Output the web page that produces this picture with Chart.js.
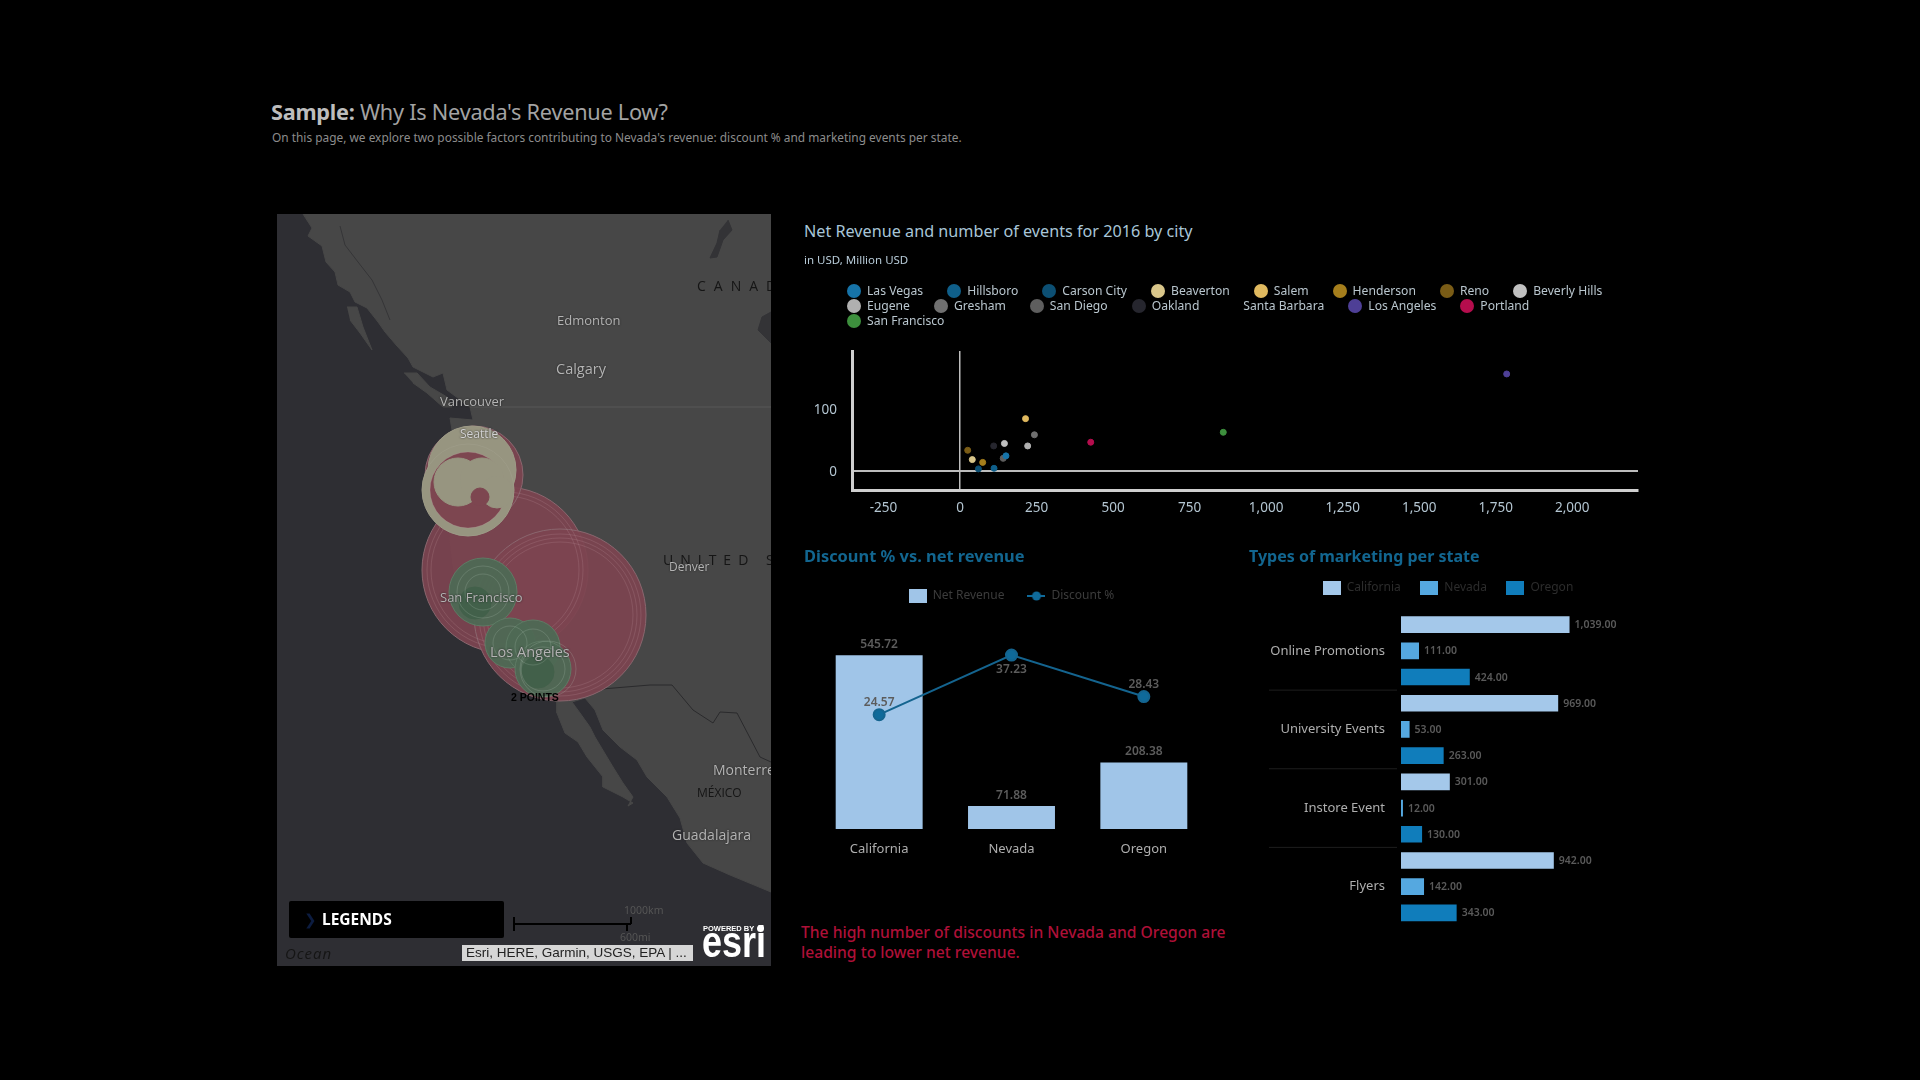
<!DOCTYPE html>
<html>
<head>
<meta charset="utf-8">
<title>Why Is Nevada's Revenue Low?</title>
<script src="https://cdn.jsdelivr.net/npm/chart.js@4"></script>
<style>
  html, body { margin: 0; width: 1920px; height: 1080px; background: #000; overflow: hidden; font-family: "Noto Sans", sans-serif; }
  canvas { position: absolute; }
  .txt { position: absolute; white-space: nowrap; line-height: 1; }
  .place { position: absolute; white-space: nowrap; line-height: 1; transform: translateY(-50%); color: #b4b4b4; font-family: "Open Sans", sans-serif; text-shadow: 0 0 2px #222; }
  .region { color: #151515; text-shadow: none; }
  #map { position: absolute; left: 277px; top: 214px; width: 494px; height: 752px; overflow: hidden; background: #2e2e33; }
  #map canvas { left: 0; top: 0; }
  #map .place { margin-left: -277px; margin-top: -214px; }
  #cityLegend { position: absolute; left: 847px; top: 283px; width: 790px; display: flex; flex-wrap: wrap; column-gap: 24px; font-size: 12.15px; line-height: 15px; height: 45px; color: #b9c6ce; }
  #cityLegend span { display: flex; align-items: center; }
  #cityLegend i { width: 14px; height: 14px; border-radius: 50%; margin-right: 6px; }
</style>
</head>
<body>
<div class="txt" style="left:271px;top:101px;font-size:21.7px;color:#a3a3a3;letter-spacing:-.25px"><b style="color:#bdbdbd">Sample:</b> Why Is Nevada's Revenue Low?</div>
<div class="txt" style="left:272px;top:132px;font-size:11.9px;color:#8c8c8c">On this page, we explore two possible factors contributing to Nevada's revenue: discount % and marketing events per state.</div>

<div id="map">
  <canvas id="mapChart" width="494" height="752"></canvas>
  <div class="place" style="left:557px;top:320px;font-size:13px">Edmonton</div>
  <div class="place" style="left:556px;top:369px;font-size:14.5px">Calgary</div>
  <div class="place" style="left:440px;top:401px;font-size:13px">Vancouver</div>
  <div class="place" style="left:460px;top:434px;font-size:12px;color:#d4d4d4">Seattle</div>
  <div class="place region" style="left:697px;top:286px;font-size:14px;letter-spacing:8px">CANADA</div>
  <div class="place region" style="left:663px;top:560px;font-size:14px;letter-spacing:7px">UNITED STATES</div>
  <div class="place" style="left:669px;top:567px;font-size:12px">Denver</div>
  <div class="place" style="left:440px;top:597px;font-size:13px">San Francisco</div>
  <div class="place" style="left:490px;top:652px;font-size:14.5px">Los Angeles</div>
  <div class="place" style="left:511px;top:697px;font-size:10.5px;font-weight:700;color:#000;text-shadow:none;font-family:'Liberation Sans'">2 POINTS</div>
  <div class="place" style="left:713px;top:770px;font-size:14px">Monterrey</div>
  <div class="place region" style="left:697px;top:793px;font-size:12px">MÉXICO</div>
  <div class="place" style="left:672px;top:835px;font-size:14px">Guadalajara</div>
  <div class="place region" style="left:285px;top:953px;font-size:15px;font-style:italic;letter-spacing:1px">Ocean</div>
  <div style="position:absolute;left:12px;top:687px;width:215px;height:37px;background:#000;border-radius:2px"></div>
  <div class="txt" style="left:27px;top:698px;font-size:15px;color:#0c1c40">&#10095;</div>
  <div class="txt" style="left:45px;top:698px;font-size:15.5px;font-weight:700;color:#fff">LEGENDS</div>
  <div style="position:absolute;left:236px;top:709px;width:118px;height:2px;background:#000"></div>
  <div style="position:absolute;left:236px;top:703px;width:2px;height:14px;background:#000"></div>
  <div style="position:absolute;left:353px;top:703px;width:2px;height:7px;background:#000"></div>
  <div style="position:absolute;left:349px;top:710px;width:2px;height:7px;background:#000"></div>
  <div class="txt" style="left:347px;top:691px;font-size:10.5px;color:#555">1000km</div>
  <div class="txt" style="left:343px;top:718px;font-size:10.5px;color:#555">600mi</div>
  <div class="txt" style="left:185px;top:731px;width:231px;height:16px;background:#d6d6d6;color:#222;font:13.5px/16px 'Liberation Sans';padding-left:4px;box-sizing:border-box">Esri, HERE, Garmin, USGS, EPA | ...</div>
  <div class="txt" style="left:426px;top:710px;font:700 7.5px 'Liberation Sans';color:#fff">POWERED BY</div>
  <div style="position:absolute;left:480px;top:711px;width:7px;height:7px;border-radius:50%;background:#fff"></div>
  <div class="txt" style="left:425px;top:712.5px;font:700 36px/36px 'Liberation Sans';color:#fff;transform-origin:0 30.5px;transform:scaleY(1.25)">esri</div>
</div>

<div class="txt" style="left:804px;top:223px;font-size:16.2px;color:#a8c6d8">Net Revenue and number of events for 2016 by city</div>
<div class="txt" style="left:804px;top:254px;font-size:11.5px;color:#b7cbd8">in USD, Million USD</div>
<div id="cityLegend"></div>
<canvas id="scatterChart" width="860" height="190" style="left:790px;top:340px"></canvas>

<div class="txt" style="left:804px;top:548px;font-size:16.4px;font-weight:700;color:#126690">Discount % vs. net revenue</div>
<canvas id="comboChart" width="440" height="308" style="left:790px;top:567px"></canvas>

<div class="txt" style="left:1249px;top:548px;font-size:16px;font-weight:700;color:#126690">Types of marketing per state</div>
<canvas id="marketingChart" width="420" height="364" style="left:1240px;top:562px"></canvas>

<div class="txt" style="left:801px;top:923px;font-size:15.65px;line-height:19.5px;font-weight:500;color:#ae1038">The high number of discounts in Nevada and Oregon are<br>leading to lower net revenue.</div>

<script>
// scatter: net revenue (x) and number of events (y) by city
const cities = ['Las Vegas', 'Hillsboro', 'Carson City', 'Beaverton', 'Salem', 'Henderson', 'Reno', 'Beverly Hills',
  'Eugene', 'Gresham', 'San Diego', 'Oakland', 'Santa Barbara', 'Los Angeles', 'Portland', 'San Francisco'];
const cityRevenue = [150, 111, 60, 40, 214, 74, 25, 145, 221, 243, 141, 110, 100, 1786, 427, 860];
const cityEvents = [24, 4, 3, 18, 84, 13.5, 33, 44, 40, 58, 20, 40, 30, 156, 46, 62];
const cityColors = ['#1673a8', '#0f5f8a', '#0c4f73', '#d9c68a', '#e0b95f', '#a57e1c', '#7a5c16', '#c0c0c0',
  '#b0b0b0', '#707070', '#5e5e5e', '#26262e', '#000000', '#4e3f96', '#b50d4d', '#3d8f3d'];
const revenueTicks = [-250, 0, 250, 500, 750, 1000, 1250, 1500, 1750, 2000];
const eventTicks = [0, 100];

// bars + line
const states = ['California', 'Nevada', 'Oregon'];
const netRevenue = [545.72, 71.88, 208.38];
const discountPct = [24.57, 37.23, 28.43];

// grouped horizontal bars
const marketingTypes = ['Online Promotions', 'University Events', 'Instore Event', 'Flyers'];
const californiaEvents = [1039, 969, 301, 942];
const nevadaEvents = [111, 53, 12, 142];
const oregonEvents = [424, 263, 130, 343];

// map shapes (x, y in the picture's own units)
const landOutline = [[303,214],[312,228],[308,236],[322,246],[326,262],[335,272],[338,285],[350,292],[355,302],[367,308],
  [378,322],[385,332],[397,346],[408,358],[413,367],[433,377],[443,373],[447,390],[470,407],[473,420],[450,418],[452,430],
  [457,460],[452,500],[450,540],[453,565],[457,590],[467,613],[487,637],[503,667],[530,687],[557,702],[557,713],[565,733],
  [578,742],[587,757],[603,777],[603,787],[623,797],[633,803],[628,806],[633,797],[623,783],[613,767],[595,737],[590,727],
  [580,713],[572,702],[585,698],[595,710],[603,730],[620,747],[637,760],[647,777],[667,797],[680,818],[687,843],[703,863],
  [730,875],[771,892],[771,214]];
const vancouverIsland = [[404,373],[417,373],[430,387],[447,397],[452,407],[443,407],[427,393],[413,383]];
const haidaGwaii = [[347,307],[357,307],[363,327],[372,350],[360,333],[350,320]];
const slaveLake = [[728,220],[732,230],[723,240],[717,257],[710,258],[717,243],[720,230]];
const eastLake = [[771,312],[762,317],[758,330],[771,343]];
const usBorder = [[470,407],[771,407]];
const mexicoBorder = [[590,690],[650,685],[672,685],[693,710],[713,723],[720,712],[737,713],[760,757],[771,762]];
const inlets = [[340,226],[345,245],[358,262],[372,280],[382,300],[390,320]];

// map bubbles, x / y / radius
const redBubbles = [[505,570,83],[560,615,86],[474,475,49]];
const redRings = [[505,570,78],[505,570,74],[560,615,81],[560,615,77],[560,615,73]];
const paleUnder = [[472,470,44],[468,490,46]];
const redInner = [[468,490,38]];
const paleBlobs = [[458,482,24],[482,480,22],[497,492,16]];
const redSwirl = [[480,497,9]];
const greenBubbles = [[483,592,34],[510,643,25],[533,647,27],[543,669,28]];
const greenDark = [[475,603,16],[538,672,16]];
const greenRings = [[483,592,26],[483,592,18],[510,643,17],[533,647,18],[543,669,22],[548,669,28]];

Chart.defaults.font.family = '"Noto Sans", sans-serif';
Chart.defaults.animation = false;
Chart.defaults.responsive = false;
Chart.defaults.layout.autoPadding = false;
Chart.defaults.plugins.tooltip.enabled = false;

const xy = pts => pts.map(p => ({ x: p[0], y: p[1] }));
const xyr = pts => pts.map(p => ({ x: p[0], y: p[1], r: p[2] }));
const shape = (pts, color) => ({ data: xy(pts), showLine: true, fill: 'shape', backgroundColor: color, borderColor: color, borderWidth: 1, pointRadius: 0, tension: 0 });
const stroke = (pts, color) => ({ data: xy(pts), showLine: true, fill: false, borderColor: color, borderWidth: 1, pointRadius: 0 });
const bubbles = (pts, fill, line) => ({ type: 'bubble', data: xyr(pts), backgroundColor: fill, borderColor: line, borderWidth: 1 });

// paint order, bottom to top
const mapLayers = [
  shape(landOutline, '#474747'),
  shape(vancouverIsland, '#474747'),
  shape(haidaGwaii, '#474747'),
  shape(slaveLake, '#333336'),
  shape(eastLake, '#333336'),
  stroke(usBorder, '#585858'),
  stroke(mexicoBorder, '#2a2a2c'),
  stroke(inlets, '#353537'),
  bubbles(redBubbles, 'rgba(125,68,80,0.92)', '#8a666e'),
  bubbles(redRings, 'transparent', 'rgba(190,150,160,0.22)'),
  bubbles(paleUnder, '#979580', '#9d9b87'),
  bubbles(redInner, '#7d4650', 'rgba(190,150,160,0.25)'),
  bubbles(paleBlobs, '#979580', '#979580'),
  bubbles(redSwirl, '#7d4650', '#7d4650'),
  bubbles(greenBubbles, 'rgba(78,105,84,0.96)', '#5e7a64'),
  bubbles(greenDark, '#42604a', '#42604a'),
  bubbles(greenRings, 'transparent', 'rgba(190,210,195,0.2)')
];
mapLayers.forEach((d, i) => { d.order = mapLayers.length - i; });

new Chart(document.getElementById('mapChart'), {
  type: 'scatter',
  data: { datasets: mapLayers },
  options: {
    layout: { padding: 0 },
    plugins: { legend: { display: false } },
    scales: {
      x: { display: false, min: 277, max: 771 },
      y: { display: false, min: 214, max: 966, reverse: true }
    }
  }
});

// city legend lives in the page so the rows stay tight
document.getElementById('cityLegend').innerHTML = cities.map((c, i) =>
  '<span><i style="background:' + cityColors[i] + '"></i>' + c + '</span>').join('');

const zeroGrid = (w) => ({
  drawTicks: false,
  lineWidth: w,
  color: c => (c.tick && c.tick.value === 0 ? '#bdbdbd' : 'rgba(0,0,0,0)')
});

new Chart(document.getElementById('scatterChart'), {
  type: 'scatter',
  data: {
    datasets: cities.map((c, i) => ({
      label: c,
      data: [{ x: cityRevenue[i], y: cityEvents[i] }],
      backgroundColor: cityColors[i],
      borderColor: cityColors[i],
      pointRadius: 3
    }))
  },
  options: {
    layout: { padding: { top: 11, right: 12 } },
    plugins: { legend: { display: false } },
    scales: {
      x: {
        min: -353, max: 2215,
        afterBuildTicks: s => { s.ticks = revenueTicks.map(v => ({ value: v })); },
        afterFit: s => { s.height = 40; },
        border: { color: '#cfcfcf', width: 3 },
        grid: zeroGrid(1.5),
        ticks: { color: '#b4c6d2', font: { size: 13.5 }, padding: 10, maxRotation: 0, autoSkip: false, callback: v => v.toLocaleString('en-US') }
      },
      y: {
        min: -31, max: 193,
        afterBuildTicks: s => { s.ticks = eventTicks.map(v => ({ value: v })); },
        afterFit: s => { s.width = 62; s.paddingTop = 0; s.paddingBottom = 0; },
        border: { color: '#cfcfcf', width: 3 },
        grid: zeroGrid(2),
        ticks: { color: '#b4c6d2', font: { size: 13.5 }, padding: 15, labelOffset: 1 }
      }
    }
  }
});

// small value labels, the datalabels plugin is not available here
const valueLabels = {
  id: 'valueLabels',
  afterDatasetsDraw(chart, args, opts) {
    const ctx = chart.ctx;
    ctx.save();
    ctx.font = opts.font;
    ctx.fillStyle = opts.color;
    chart.data.datasets.forEach((ds, d) => {
      chart.getDatasetMeta(d).data.forEach((el, i) => {
        const text = ds.data[i].toLocaleString('en-US', { minimumFractionDigits: 2, maximumFractionDigits: 2 });
        opts.place(ctx, el, text, ds, i);
      });
    });
    ctx.restore();
  }
};

const swatch = (color, w, h) => {
  const c = document.createElement('canvas');
  c.width = w; c.height = h;
  const g = c.getContext('2d');
  g.fillStyle = color;
  g.fillRect(0, 0, w, h);
  return c;
};
const lineSwatch = (color, w, h) => {
  const c = document.createElement('canvas');
  c.width = w; c.height = h;
  const g = c.getContext('2d');
  g.fillStyle = color;
  g.fillRect(0, h / 2 - 1, w, 2);
  g.beginPath();
  g.arc(w / 2, h / 2, 4.5, 0, Math.PI * 2);
  g.fill();
  return c;
};
const legendItems = (names, styles, fontColor) => () => names.map((n, i) => ({
  text: n, pointStyle: styles[i], fontColor, fillStyle: 'transparent', strokeStyle: 'transparent', lineWidth: 0, hidden: false, datasetIndex: i
}));

const lineLabelShift = [-12, 14, -12];

new Chart(document.getElementById('comboChart'), {
  type: 'bar',
  data: {
    labels: states,
    datasets: [
      { type: 'line', label: 'Discount %', data: discountPct, yAxisID: 'y1', borderColor: '#14648f', backgroundColor: '#0f6a9a', borderWidth: 2, pointRadius: 5.5, tension: 0, order: 1 },
      { label: 'Net Revenue', data: netRevenue, yAxisID: 'y', backgroundColor: '#a0c5e8', barPercentage: 0.657, categoryPercentage: 1, order: 2 }
    ]
  },
  options: {
    layout: { padding: { left: 23, right: 20 } },
    plugins: {
      legend: {
        labels: {
          usePointStyle: true, pointStyleWidth: 18, padding: 23, font: { size: 12 }, color: '#3c3c3c',
          generateLabels: legendItems(['Net Revenue', 'Discount %'], [swatch('#a0c5e8', 18, 14), lineSwatch('#0f6a9a', 18, 12)], '#3c3c3c')
        }
      },
      valueLabels: {
        font: '600 12px "Noto Sans"', color: '#5c5c5c',
        place(ctx, el, text, ds, i) {
          ctx.textAlign = 'center';
          ctx.textBaseline = 'middle';
          if (ds.type === 'line') ctx.fillText(text, el.x, el.y + lineLabelShift[i]);
          else ctx.fillText(text, el.x, el.y - 11);
        }
      }
    },
    scales: {
      x: {
        afterFit: s => { s.height = 46; },
        border: { display: false },
        grid: { display: false },
        ticks: { color: '#aeaeae', font: { size: 13 }, padding: 4 }
      },
      y: { display: false, min: 0, max: 681.2 },
      y1: { display: false, min: 0.3, max: 46.38 }
    }
  },
  plugins: [valueLabels]
});

// thin dividers between the marketing groups
const groupDividers = {
  id: 'groupDividers',
  beforeDatasetsDraw(chart) {
    const s = chart.scales.y, ctx = chart.ctx;
    ctx.save();
    ctx.strokeStyle = '#1e1e1e';
    ctx.lineWidth = 1;
    for (let i = 0; i < marketingTypes.length - 1; i++) {
      const y = (s.getPixelForValue(i) + s.getPixelForValue(i + 1)) / 2;
      ctx.beginPath();
      ctx.moveTo(chart.chartArea.left - 132, y);
      ctx.lineTo(chart.chartArea.left - 4, y);
      ctx.stroke();
    }
    ctx.restore();
  }
};

const marketingColors = ['#a4c8ea', '#55a8e0', '#107dbb'];

new Chart(document.getElementById('marketingChart'), {
  type: 'bar',
  data: {
    labels: marketingTypes,
    datasets: [
      { label: 'California', data: californiaEvents, backgroundColor: marketingColors[0] },
      { label: 'Nevada', data: nevadaEvents, backgroundColor: marketingColors[1] },
      { label: 'Oregon', data: oregonEvents, backgroundColor: marketingColors[2] }
    ].map(d => ({ ...d, barPercentage: 0.637, categoryPercentage: 1 }))
  },
  options: {
    indexAxis: 'y',
    layout: { padding: { left: 6, right: 10 } },
    plugins: {
      legend: {
        labels: {
          usePointStyle: true, pointStyleWidth: 18, padding: 19.5, font: { size: 12 }, color: '#2c2c2c',
          generateLabels: legendItems(['California', 'Nevada', 'Oregon'], marketingColors.map(c => swatch(c, 18, 14)), '#2c2c2c')
        }
      },
      valueLabels: {
        font: '600 10.5px "Noto Sans"', color: '#5a5a5a',
        place(ctx, el, text) {
          ctx.textAlign = 'left';
          ctx.textBaseline = 'middle';
          ctx.fillText(text, el.x + 5, el.y + 0.5);
        }
      }
    },
    scales: {
      x: {
        position: 'top',
        min: 0, max: 1535,
        afterFit: s => { s.height = 8; },
        border: { display: false },
        grid: { display: false },
        ticks: { display: false }
      },
      y: {
        afterFit: s => { s.width = 155; s.paddingTop = 0; s.paddingBottom = 0; },
        border: { display: false },
        grid: { display: false },
        ticks: { color: '#aeaeae', font: { size: 13 }, padding: 8 }
      }
    }
  }
  ,
  plugins: [valueLabels, groupDividers]
});
</script>
</body>
</html>
